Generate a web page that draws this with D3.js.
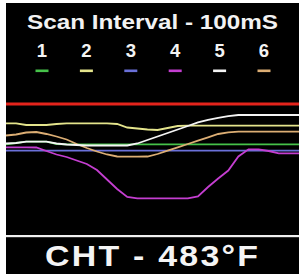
<!DOCTYPE html>
<html><head><meta charset="utf-8">
<script src="https://cdn.jsdelivr.net/npm/d3@7"></script>
<style>html,body{margin:0;padding:0;background:#fff;}svg{display:block;}</style>
</head><body>
<svg id="c" width="299" height="274"></svg>
<script>
const title = "Scan Interval - 100mS";
const footer = "CHT - 483°F";
const channels = ["1","2","3","4","5","6"];
const channelColors = ["#46c24a","#e4e48c","#6a70d8","#c43ed0","#f4f4f4","#dcae74"];
const samples = d3.range(30);
const limitValue = 131;
const ch1 = [90.7,92,93.3,93.3,93.3,91,90.7,90.7,90.7,90.7,90.7,90.7,90.7,90.7,90.7,90.7,90.7,90.7,90.7,90.7,90.7,90.7,90.7,90.7,90.7,90.7,90.7,90.7,90.7,90.7];
const ch2 = [111.7,111.7,110,110,110,111,111.7,111.7,111.7,111.7,111.7,111,107.5,106.5,105.5,105,107,109,109.3,109.3,109.3,109.3,109.3,109.3,109.3,109.3,109.3,109.3,109.3,109.3];
const ch3 = [84.3,84.3,84.3,84.3,84.3,84.3,84.3,84.3,84.3,84.3,84.3,84.3,84.3,84.3,84.3,84.3,84.3,84.3,84.3,84.3,84.3,84.3,84.3,84.3,84.3,84.3,84.3,84.3,84.3,84.3];
const ch4 = [87.7,87.7,87.7,87.5,84,80.5,78,74.5,71,65,55.5,46,38,36.7,36.7,36.7,36.7,36.7,36.7,38.5,48,56.5,64.5,78.5,85.7,85.7,84,81.7,81.7,81.7];
const ch5 = [91.5,92,93.3,93.3,93.3,91.5,90.5,90,89.5,89.5,89.5,89.5,89.5,91.5,95,98.5,102,105.5,109,112.6,115.2,117.2,118.8,120,120,120,120,120,120,120];
const ch6 = [99.5,100.5,102.5,103,101,98.5,95.5,91,87,83.5,80.5,78.5,78.3,78.3,78.5,81,84.3,87.7,91,94.4,97.7,101,102.7,103.3,103.3,103.3,103.3,103.3,103.3,103.3];
const series = [ch1,ch2,ch3,ch4,ch5,ch6];

const svg = d3.select("#c");
const W = 299, H = 274;
const panelX = 6, panelY = 3;
svg.append("rect").attr("x",panelX).attr("y",panelY).attr("width",W-panelX).attr("height",H-panelY).attr("fill","#000");

const font = "Liberation Sans, Arial, sans-serif";
svg.append("text").attr("x",27).attr("y",28.5)
  .attr("font-family",font).attr("font-weight","bold")
  .attr("font-size",21).attr("fill","#f2f2f2")
  .attr("textLength",251).attr("lengthAdjust","spacingAndGlyphs").text(title);

const lx = d3.scalePoint().domain(channels).range([42, 264]);
const leg = svg.append("g");
channels.forEach((c,i)=>{
  leg.append("text").attr("x",lx(c)).attr("y",56.5).attr("text-anchor","middle")
    .attr("font-family",font).attr("font-weight","bold")
    .attr("font-size",18.5).attr("fill","#f4f4f4").text(c);
  leg.append("rect").attr("x",lx(c)-6.5).attr("y",69.5).attr("width",13).attr("height",2.6)
    .attr("fill",channelColors[i]);
});

const x = d3.scaleLinear().domain([0,29]).range([panelX, W]);
const y = d3.scaleLinear().domain([0,135]).range([235,100]);

svg.append("line").attr("x1",x(0)).attr("x2",x(29)).attr("y1",y(limitValue)).attr("y2",y(limitValue))
  .attr("stroke","#e4241c").attr("stroke-width",3);

const line = d3.line().x((d,i)=>x(samples[i])).y(d=>y(d));
const order = [2,0,5,1,4,3];
order.forEach(k=>{
  svg.append("path").datum(series[k]).attr("d",line).attr("fill","none")
    .attr("stroke",channelColors[k]).attr("stroke-width",1.8).attr("stroke-linejoin","miter");
});

svg.append("rect").attr("x",panelX).attr("y",235).attr("width",W-panelX).attr("height",2.2).attr("fill","#f0f0f0");

const sx = 1.15;
svg.append("text").attr("transform",`translate(45,266) scale(${sx},1)`)
  .attr("font-family",font).attr("font-weight","bold")
  .attr("font-size",29.5).attr("fill","#f4f4f4")
  .attr("textLength",213/sx).attr("lengthAdjust","spacing").text(footer);
</script>
</body></html>
